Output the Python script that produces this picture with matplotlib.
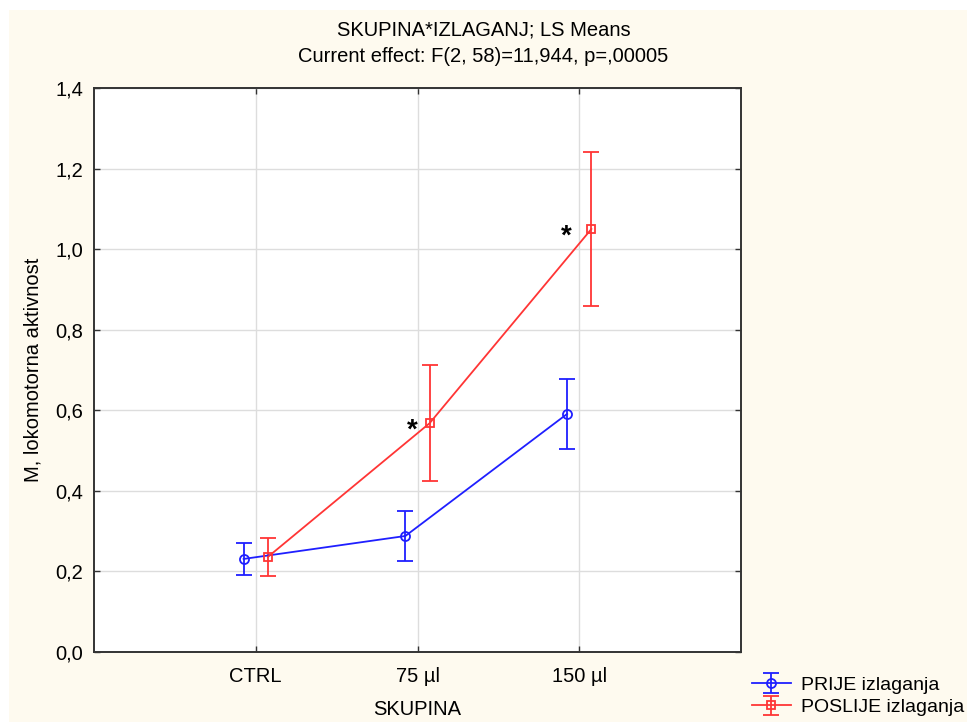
import numpy as np
import matplotlib.pyplot as plt
from matplotlib.patches import Rectangle
from matplotlib.ticker import FuncFormatter

# LS Means (Statistica style)
groups = ['CTRL', '75 µl', '150 µl']
prije_mean = [0.231, 0.288, 0.591]
prije_err = [0.040, 0.062, 0.087]
poslije_mean = [0.236, 0.568, 1.050]
poslije_err = [0.048, 0.144, 0.190]
star_groups = [1, 2]          # groups marked with *
star_dx = [-0.03, -0.08]

blue = '#1f1fff'
red = '#ff3535'
fs = 14.5

plt.rcParams['font.family'] = 'Liberation Sans'

fig = plt.figure(figsize=(9.67, 7.22), dpi=100, facecolor='white')
# cream panel behind the whole chart
fig.patches.append(Rectangle((9 / 967, 0), 1, 1 - 10 / 722, transform=fig.transFigure,
                             facecolor='#fefaef', edgecolor='none', zorder=-10))

ax = fig.add_axes([94 / 967, 1 - 652 / 722, 647 / 967, 564 / 722])
ax.set_facecolor('white')

x = np.arange(len(groups))
off = 0.075

ax.errorbar(x - off, prije_mean, yerr=prije_err, color=blue, lw=1.3, elinewidth=1.3,
            capsize=5.8, capthick=1.3, marker='o', ms=6.5, mfc='none', mec=blue, mew=1.3,
            label='PRIJE izlaganja', zorder=3)
ax.errorbar(x + off, poslije_mean, yerr=poslije_err, color=red, lw=1.3, elinewidth=1.3,
            capsize=5.8, capthick=1.3, marker='s', ms=6, mfc='none', mec=red, mew=1.3,
            label='POSLIJE izlaganja', zorder=3)

# significance stars (the glyph sits high in its box, so nudge it down a bit)
for g, dx in zip(star_groups, star_dx):
    ax.text(g + dx, poslije_mean[g] - 0.018, '*', fontsize=20, fontweight='bold',
            ha='center', va='center', color='black')

ax.set_xlim(-1, 3)
ax.set_ylim(0, 1.4)
ax.set_xticks(x)
ax.set_xticklabels(groups)
ax.set_yticks(np.arange(0, 1.41, 0.2))
ax.yaxis.set_major_formatter(FuncFormatter(lambda v, p: f'{v:.1f}'.replace('.', ',')))
ax.grid(True, color='#dddddd', lw=1)
ax.set_axisbelow(True)
ax.tick_params(direction='in', length=4, width=1, color='#333333', labelsize=fs,
               top=True, right=True, pad=8)
ax.tick_params(axis='x', pad=11)
for s in ax.spines.values():
    s.set_color('#333333')
    s.set_linewidth(1.4)

ax.set_xlabel('SKUPINA', fontsize=fs, labelpad=10)
ax.set_ylabel('M, lokomotorna aktivnost', fontsize=fs, labelpad=9)

fig.text(0.5, 1 - 30 / 722, 'SKUPINA*IZLAGANJ; LS Means', ha='center', va='center', fontsize=fs)
fig.text(0.5, 1 - 57 / 722, 'Current effect: F(2, 58)=11,944, p=,00005', ha='center',
         va='center', fontsize=fs)

fig.legend(loc='upper left', bbox_to_anchor=(752 / 967, 1 - 676 / 722), frameon=False,
           fontsize=14, handlelength=2.0, handletextpad=0.5, labelspacing=0.25,
           borderaxespad=0, borderpad=0)

fig.savefig('out.png', dpi=100, facecolor=fig.get_facecolor())
